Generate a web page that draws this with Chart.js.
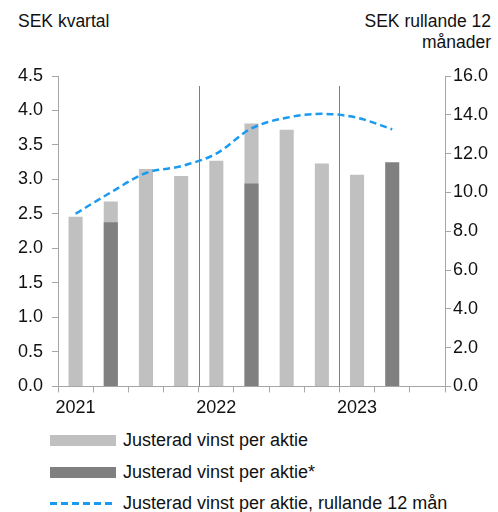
<!DOCTYPE html>
<html>
<head>
<meta charset="utf-8">
<script src="https://cdn.jsdelivr.net/npm/chart.js@4/dist/chart.umd.min.js"></script>
<style>
  body { margin: 0; background: #fff; font-family: "Liberation Sans", Arial, sans-serif; color: #111; }
  #wrap { position: relative; width: 498px; height: 512px; overflow: hidden; }
  #chartBox { position: absolute; left: 0; top: 0; width: 498px; height: 424px; }
  .title { position: absolute; font-size: 17.5px; line-height: 21px; }
  .legend { position: absolute; left: 50px; top: 425px; font-size: 18px; }
  .legend div { display: flex; align-items: center; height: 31.5px; white-space: nowrap; }
  .sw { width: 66px; height: 11px; margin-right: 7px; }
  .dash { width: 66px; height: 3px; margin-right: 7px;
          background: repeating-linear-gradient(to right, #1a9bf0 0 7px, transparent 7px 11px); }
</style>
</head>
<body>
<div id="wrap">
  <div class="title" style="left:18px; top:11px;">SEK kvartal</div>
  <div class="title" style="right:7px; top:11px; text-align:right;">SEK rullande 12<br>månader</div>
  <div id="chartBox"><canvas id="c"></canvas></div>
  <div class="legend">
    <div><span class="sw" style="background:#c0c0c0"></span>Justerad vinst per aktie</div>
    <div><span class="sw" style="background:#808080"></span>Justerad vinst per aktie*</div>
    <div><span class="dash"></span>Justerad vinst per aktie, rullande 12 mån</div>
  </div>
</div>
<script>
// quarters 2021 Q1 .. 2023 Q3
const quarters = ['2021 Q1', '2021 Q2', '2021 Q3', '2021 Q4', '2022 Q1', '2022 Q2', '2022 Q3', '2022 Q4', '2023 Q1', '2023 Q2', '2023 Q3'];
const yearLabels = ['2021', '', '', '', '2022', '', '', '', '2023', '', ''];
const epsAdjusted = [2.46, 2.68, 3.15, 3.05, 3.27, 3.81, 3.72, 3.23, 3.07, null, null];
const epsAdjustedStar = [null, 2.38, null, null, null, 2.94, null, null, null, 3.25, null];
const epsRolling12 = [8.9, 10.0, 11.0, 11.35, 12.0, 13.3, 13.85, 14.05, 13.85, 13.25, null];
const yearBreaks = [4, 8];

const axisColor = '#a6a6a6';

// vertical separators between years
const yearLinePlugin = {
  id: 'yearLines',
  beforeDatasetsDraw(chart) {
    const { ctx, chartArea, scales } = chart;
    const x = scales.x;
    const step = x.getPixelForValue(1) - x.getPixelForValue(0);
    ctx.save();
    ctx.strokeStyle = '#7f7f7f';
    ctx.lineWidth = 1;
    yearBreaks.forEach(i => {
      const px = Math.round(x.getPixelForValue(i) - step / 2) + 0.5;
      ctx.beginPath();
      ctx.moveTo(px, chartArea.top + 10);
      ctx.lineTo(px, chartArea.bottom);
      ctx.stroke();
    });
    ctx.restore();
  }
};

const tickFont = { family: '"Liberation Sans", Arial, sans-serif', size: 18 };

new Chart(document.getElementById('c'), {
  type: 'bar',
  data: {
    labels: quarters,
    datasets: [
      {
        type: 'line',
        label: 'Justerad vinst per aktie, rullande 12 mån',
        data: epsRolling12,
        yAxisID: 'y2',
        borderColor: '#1a9bf0',
        borderWidth: 2.5,
        borderDash: [7, 4],
        pointRadius: 0,
        tension: 0.4,
        cubicInterpolationMode: 'monotone',
        order: 0
      },
      {
        label: 'Justerad vinst per aktie*',
        data: epsAdjustedStar,
        backgroundColor: '#808080',
        grouped: false,
        barPercentage: 0.4,
        categoryPercentage: 1,
        order: 1
      },
      {
        label: 'Justerad vinst per aktie',
        data: epsAdjusted,
        backgroundColor: '#c0c0c0',
        grouped: false,
        barPercentage: 0.4,
        categoryPercentage: 1,
        order: 2
      }
    ]
  },
  options: {
    responsive: true,
    maintainAspectRatio: false,
    animation: false,
    layout: { padding: { top: 76, left: 0, right: 0, bottom: 0 } },
    plugins: {
      legend: { display: false },
      tooltip: { enabled: false }
    },
    scales: {
      x: {
        offset: true,
        grid: { display: true, drawOnChartArea: false, offset: true, color: axisColor, tickLength: 6 },
        border: { color: axisColor },
        ticks: {
          autoSkip: false,
          maxRotation: 0,
          color: '#111',
          font: tickFont,
          padding: 5,
          callback: (v, i) => yearLabels[i]
        }
      },
      y: {
        position: 'left',
        min: 0,
        max: 4.5,
        grid: { display: true, drawOnChartArea: false, color: axisColor, tickLength: 6 },
        border: { color: axisColor },
        ticks: {
          stepSize: 0.5,
          color: '#111',
          font: tickFont,
          padding: 9,
          callback: v => v.toFixed(1)
        },
        afterFit: s => { s.width = 58; }
      },
      y2: {
        position: 'right',
        min: 0,
        max: 16,
        grid: { display: true, drawOnChartArea: false, color: axisColor, tickLength: 6 },
        border: { color: axisColor },
        ticks: {
          stepSize: 2,
          color: '#111',
          font: tickFont,
          padding: 2,
          callback: v => v.toFixed(1)
        },
        afterFit: s => { s.width = 53; }
      }
    }
  },
  plugins: [yearLinePlugin]
});
</script>
</body>
</html>
